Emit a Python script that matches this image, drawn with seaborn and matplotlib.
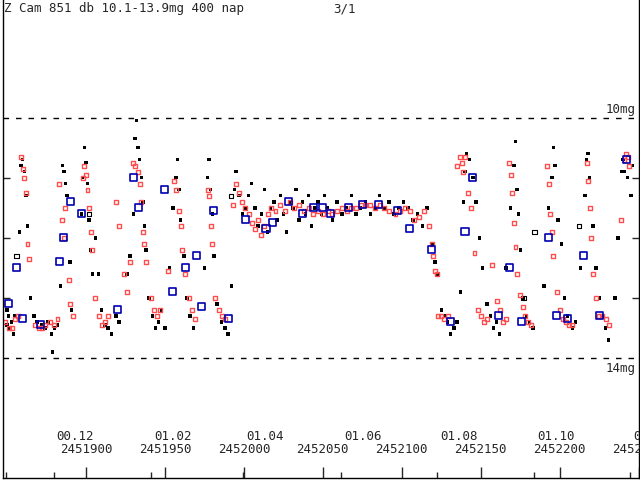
import numpy as np
import pandas as pd
import seaborn as sns
import matplotlib
matplotlib.use('Agg')
import matplotlib.pyplot as plt

JD0 = 2451800

# visual estimates (day = JD - 2451800, magnitude)
black_day = [50,50,51,52,53,54,55,58,59,60,61,62,63,65,67,69,72,74,76,78,80,82,79,
             84,85,86,87,88,90,91,97,98,99,100,101,102,103,104,106,108,110,112,114,116,119,121,
             126,128,130,131,132,133,134,135,136,137,138,140,142,144,146,148,150,
             153,155,157,158,159,160,162,164,166,168,175,177,178,179,180,181,183,186,188,190,
             192,194,195,197,199,201,203,205,207,209,
             211,213,215,217,219,221,223,225,227,229,231,233,235,237,239,241,243,245,247,249,
             251,253,256,259,262,265,268,271,274,277,280,283,286,289,292,295,298,301,304,307,310,313,316,
             319,321,323,325,327,329,331,333,335,337,339,340,341,343,345,347,349,351,
             354,356,358,360,362,366,369,371,372,373,374,375,377,379,381,383,
             390,393,395,396,397,399,401,403,405,408,410,413,416,417,418,419,421,423,425,427,429,431,
             435,437,439,440,441,443,445,446]
black_mag = [13.2,13.45,13.3,13.5,13.4,13.6,13.3,11.9,10.8,10.7,10.9,11.3,11.8,13.0,13.3,13.4,13.45,13.5,13.4,13.6,13.5,13.45,13.9,
             12.8,10.8,10.9,11.1,11.3,12.4,13.2,11.6,11.0,10.5,10.75,11.1,11.7,12.2,12.6,12.0,12.6,13.2,13.45,13.5,13.6,13.3,13.4,
             12.6,12.3,11.6,10.35,10.05,10.5,10.7,11.0,11.4,11.8,12.2,13.0,13.3,13.5,13.4,13.2,13.5,
             12.5,11.5,11.0,10.7,11.2,11.7,12.3,13.0,13.3,13.5,12.5,11.0,10.7,11.2,11.6,12.3,13.1,13.4,13.5,13.6,
             12.8,11.2,10.9,11.3,11.6,11.5,11.3,11.1,11.5,11.8,
             11.6,11.2,11.9,11.5,11.4,11.7,11.3,11.6,11.9,11.4,11.5,11.2,11.7,11.4,11.6,11.3,11.8,11.5,11.4,11.6,
             11.3,11.5,11.7,11.4,11.6,11.5,11.3,11.6,11.5,11.4,11.6,11.5,11.3,11.5,11.4,11.6,11.5,11.4,11.5,11.7,11.6,11.8,11.5,
             12.1,12.4,12.6,13.2,13.3,13.4,13.6,13.5,13.4,12.9,11.4,10.9,10.6,10.7,11.0,11.4,12.0,12.5,
             13.1,13.3,13.5,13.4,13.6,12.5,11.5,10.8,10.4,11.2,11.6,12.2,13.0,13.3,13.4,13.5,
             12.8,11.5,11.0,10.5,10.8,11.7,12.1,13.0,13.3,13.5,13.4,12.5,11.3,10.7,10.6,11.0,11.8,12.5,13.0,13.3,13.5,13.7,
             13.0,12.0,10.9,10.7,10.9,11.0,11.3,10.8]

red_day = [49,51,53,55,57,59,60,61,62,63,64,68,70,72,74,77,80,82,83,85,86,87,89,90,92,
           98,99,100,101,102,103,104,106,108,110,112,114,119,121,124,126,128,130,131,133,134,135,136,137,138,141,143,145,147,
           152,156,157,159,160,161,163,165,167,169,177,178,179,180,182,184,186,188,
           193,195,197,199,201,203,205,207,209,211,213,215,217,220,223,226,229,232,235,238,241,244,247,250,
           253,256,259,262,265,268,271,274,277,280,283,286,289,292,296,299,302,305,308,311,314,
           317,319,320,321,322,323,325,327,329,335,337,338,339,340,342,344,346,348,350,352,354,
           357,360,362,364,366,368,369,370,371,372,373,375,377,378,380,382,
           392,393,394,395,396,398,400,402,404,406,408,417,418,419,420,421,423,425,427,429,431,
           441,442,443,444,439]
red_mag = [13.4,13.5,13.5,13.35,13.3,10.65,10.85,11.0,11.25,12.1,12.35,13.45,13.5,13.5,13.45,13.4,13.45,13.35,11.1,11.7,12.0,11.5,12.7,13.1,13.3,
           11.0,10.8,10.95,11.2,11.5,11.9,12.2,13.0,13.3,13.45,13.4,13.3,11.4,11.8,12.6,12.9,12.4,10.75,10.8,10.9,11.1,11.4,11.9,12.1,12.4,13.0,13.2,13.3,13.2,
           12.55,11.05,11.2,11.55,11.8,12.2,12.6,13.0,13.2,13.35,11.2,11.3,11.8,12.1,13.0,13.2,13.3,13.35,
           11.45,11.1,11.25,11.4,11.5,11.6,11.75,11.85,11.7,11.95,11.8,11.6,11.5,11.55,11.45,11.55,11.4,11.5,11.45,11.55,11.5,11.6,11.55,11.6,
           11.55,11.6,11.55,11.5,11.55,11.5,11.5,11.45,11.45,11.45,11.5,11.45,11.5,11.55,11.6,11.55,11.5,11.55,11.7,11.65,11.55,
           11.8,12.1,12.3,12.55,12.6,13.3,13.3,13.35,13.3,10.8,10.65,10.75,10.9,10.65,11.25,11.5,12.25,13.2,13.3,13.4,13.35,
           12.45,13.05,13.2,13.4,13.35,10.75,10.95,11.25,11.75,12.15,12.6,12.95,13.15,13.3,13.4,13.45,
           10.8,11.1,11.6,11.9,12.3,12.9,13.2,13.35,13.4,13.45,13.45,10.75,11.05,11.5,12.0,12.6,13.0,13.3,13.3,13.35,13.45,
           10.7,10.6,10.65,10.8,11.7]

blue_day = [51,56,60,71,83,86,90,97,120,130,133,150,155,163,170,173,181,190,201,214,218,228,237,244,250,
            255,266,275,285,297,305,319,331,340,345,361,368,376,393,398,405,415,425,442]
blue_mag = [13.1,12.5,13.35,13.45,12.4,12.0,11.4,11.6,13.2,11.0,11.5,11.2,12.9,12.5,12.3,13.15,11.55,13.35,11.7,11.85,11.75,11.4,11.6,11.5,11.5,
            11.6,11.5,11.45,11.45,11.55,11.85,12.2,13.4,11.9,11.0,13.3,12.5,13.4,12.0,13.3,13.35,12.3,13.3,10.7]

grey_day = [56,102,192,377,384,412]
grey_mag = [12.3,11.6,11.3,13.0,11.9,11.8]

jd_ticks = [2451900, 2451950, 2452000, 2452050, 2452100, 2452150, 2452200, 2452250]
month_jd = [2451879.5, 2451941.5, 2451999.5, 2452061.5, 2452122.5, 2452183.5, 2452244.5]
month_lbl = ['00.12', '01.02', '01.04', '01.06', '01.08', '01.10', '02.12']

sns.set_style('white')
plt.rcParams['font.family'] = ['DejaVu Sans Mono']

fig = plt.figure(figsize=(6.4, 4.8), dpi=100)
ax = fig.add_axes([0.004, 0.004, 0.994, 0.996])

def jd(days):
    return [JD0 + d for d in days]

sns.scatterplot(x=jd(black_day), y=black_mag, ax=ax, marker='s', s=6, color='black',
                edgecolor='none', linewidth=0)
sns.scatterplot(x=jd(grey_day), y=grey_mag, ax=ax, marker='s', s=10, facecolor='none',
                edgecolor='black', linewidth=0.8)
sns.scatterplot(x=jd(red_day), y=red_mag, ax=ax, marker='s', s=8, facecolor='none',
                edgecolor='#ff4d4d', linewidth=1.0)
sns.scatterplot(x=jd(blue_day), y=blue_mag, ax=ax, marker='s', s=26, facecolor='none',
                edgecolor='#0000b0', linewidth=1.2)

ax.set_xlim(2451847.2, 2452249.8)
ax.set_ylim(16.0, 8.04)
for m in (10, 14):
    ax.axhline(m, color='black', lw=1, dashes=(4, 5))
ax.text(2452248, 9.97, '10mg', ha='right', va='bottom', fontsize=9)
ax.text(2452248, 14.06, '14mg', ha='right', va='top', fontsize=9)

ax.set_xticks(jd_ticks)
ax.set_xticks([2451849.5] + month_jd, minor=True)
ax.set_xticklabels([])
ax.tick_params(axis='x', which='major', direction='in', length=8, width=1, bottom=True)
ax.tick_params(axis='x', which='minor', direction='in', length=4, width=1, bottom=True)
ax.set_yticks([11, 12, 13])
ax.set_yticklabels([])
ax.tick_params(axis='y', direction='in', length=5, width=1, left=True, right=True)

for j in jd_ticks:
    ax.text(j, 15.53, str(j), ha='center', va='center', fontsize=9)
for j, lbl in zip(month_jd, month_lbl):
    ax.text(j + 2, 15.31, lbl, ha='left', va='center', fontsize=9, clip_on=True)

ax.spines['top'].set_visible(False)
for s in ('left', 'bottom', 'right'):
    ax.spines[s].set_color('black')
    ax.spines[s].set_linewidth(1)

fig.text(0.007, 0.995, 'Z Cam 851 db 10.1-13.9mg 400 nap', ha='left', va='top', fontsize=9)
fig.text(0.52, 0.995, '3/1', ha='left', va='top', fontsize=9)

fig.savefig('out.png', dpi=100)
